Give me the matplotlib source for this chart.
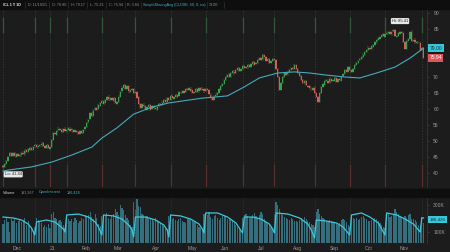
import matplotlib
matplotlib.use("Agg")
import matplotlib.pyplot as plt
from matplotlib.patches import Rectangle
import numpy as np

plt.rcParams["font.family"] = ["Liberation Sans", "DejaVu Sans"]

# ---------------- data ----------------
closes = [
41.9, 42.7, 43.8, 45.1, 46.2, 45.4, 46.1, 45.2, 45.9, 45.3,
45.6, 46.3, 45.9, 47.0, 46.6, 47.4, 47.8, 47.3, 48.2, 48.8,
48.1, 48.4, 48.7, 49.2, 48.5, 47.9, 48.6, 47.7, 48.1, 50.4,
52.5, 52.1, 53.2, 53.9, 53.4, 52.9, 53.8, 53.1, 53.4, 54.0,
53.2, 53.6, 52.7, 53.3, 52.8, 52.2, 53.0, 52.5, 53.5, 54.4,
55.7, 56.6, 58.7, 57.9, 59.5, 60.4, 59.8, 61.1, 61.9, 62.6,
61.7, 62.9, 63.8, 63.0, 63.4, 62.7, 63.3, 61.8, 62.2, 63.9,
65.4, 66.7, 67.5, 66.4, 67.1, 65.5, 65.9, 66.3, 64.9, 65.3,
63.5, 61.7, 60.3, 61.5, 60.9, 59.9, 60.6, 61.3, 59.8, 60.9,
60.3, 59.9, 60.7, 61.6, 61.2, 62.0, 62.8, 62.3, 63.4, 62.9,
64.1, 63.3, 63.7, 64.4, 63.9, 65.2, 65.0, 65.6, 65.1, 66.3,
65.9, 66.5, 65.7, 65.0, 65.3, 66.2, 65.4, 66.6, 65.9, 66.4,
65.5, 66.2, 65.9, 64.6, 63.4, 62.8, 63.9, 64.5, 65.0, 66.1,
67.2, 67.9, 69.1, 70.0, 70.7, 70.1, 71.2, 71.8, 71.1, 72.2,
72.8, 72.0, 72.5, 73.4, 72.7, 73.1, 73.7, 73.2, 74.1, 74.8,
73.9, 74.4, 75.2, 75.9, 75.4, 76.9, 76.1, 75.0, 75.5, 74.4,
74.9, 75.7, 75.3, 72.6, 70.0, 65.9, 68.2, 69.9, 71.2, 70.7,
71.6, 72.2, 72.9, 72.4, 73.7, 72.5, 71.2, 70.4, 69.0, 68.1,
68.6, 67.4, 67.0, 66.5, 66.1, 66.6, 65.0, 63.7, 62.2, 65.1,
66.9, 67.7, 68.6, 69.0, 68.2, 69.5, 68.6, 69.0, 69.7, 68.5,
69.3, 69.0, 70.1, 71.0, 72.2, 71.7, 73.1, 72.2, 71.5, 72.6,
73.8, 74.4, 75.1, 75.7, 76.2, 77.0, 77.8, 78.4, 79.2, 78.7,
79.6, 80.0, 80.9, 81.5, 82.1, 82.5, 83.2, 82.7, 83.4, 83.7,
84.0, 83.4, 84.2, 84.65, 82.7, 82.8, 83.6, 84.0, 83.9, 80.9,
78.8, 81.3, 81.9, 84.1, 81.3, 81.6, 80.8, 80.9, 80.8, 78.4,
79.0, 75.94]

opens = [
42.2, 41.9, 42.8, 43.7, 45.2, 46.1, 45.3, 46.2, 45.1, 45.8,
45.4, 45.5, 46.4, 45.8, 47.1, 46.5, 47.3, 47.9, 47.2, 48.3,
48.7, 48.0, 48.5, 48.6, 49.3, 48.4, 47.8, 48.7, 47.6, 48.2,
50.3, 52.6, 52.0, 53.3, 53.8, 53.5, 52.8, 53.9, 53.0, 53.5,
53.9, 53.3, 53.5, 52.8, 53.2, 52.9, 52.1, 53.1, 52.4, 53.6,
54.3, 55.8, 56.8, 58.6, 57.8, 59.6, 60.3, 59.9, 61.0, 62.0,
62.5, 61.8, 62.8, 63.9, 62.9, 63.5, 62.6, 63.4, 61.7, 62.3,
63.8, 65.5, 66.6, 67.6, 66.3, 67.2, 65.4, 66.0, 66.2, 65.0,
65.2, 63.6, 61.6, 60.4, 61.4, 61.0, 59.8, 60.7, 61.2, 59.9,
60.8, 60.4, 59.8, 60.8, 61.5, 61.3, 61.9, 62.9, 62.2, 63.5,
62.8, 64.2, 63.2, 63.8, 64.3, 64.0, 65.1, 65.1, 65.5, 65.2,
66.2, 66.0, 66.4, 65.8, 64.9, 65.4, 66.1, 65.5, 66.5, 66.0,
66.3, 65.6, 66.1, 66.0, 64.5, 63.5, 62.7, 64.0, 64.4, 65.1,
66.0, 67.3, 67.8, 69.2, 69.9, 70.8, 70.0, 71.3, 71.7, 71.2,
72.1, 72.9, 71.9, 72.6, 73.3, 72.8, 73.0, 73.8, 73.1, 74.2,
74.7, 74.0, 74.3, 75.3, 75.8, 75.5, 76.8, 76.2, 74.9, 75.6,
74.3, 75.0, 75.6, 75.4, 72.5, 70.1, 66.0, 68.1, 70.0, 71.1,
70.8, 71.5, 72.3, 72.8, 72.5, 73.6, 72.4, 71.3, 70.3, 69.1,
68.0, 68.7, 67.3, 67.1, 66.4, 66.0, 66.7, 64.9, 63.8, 62.3,
65.0, 67.0, 67.6, 68.7, 68.9, 68.3, 69.4, 68.7, 68.9, 69.8,
68.4, 69.4, 68.9, 70.2, 70.9, 72.3, 71.6, 73.2, 72.1, 71.6,
72.5, 73.9, 74.3, 75.2, 75.6, 76.3, 76.9, 77.7, 78.5, 79.1,
78.8, 79.5, 80.1, 80.8, 81.6, 82.0, 82.6, 83.3, 82.6, 83.5,
83.6, 84.1, 83.3, 84.3, 84.6, 82.6, 82.9, 83.5, 84.1, 83.8,
81.0, 78.7, 81.4, 81.8, 84.2, 81.2, 81.7, 80.7, 81.0, 80.7,
78.5, 79.0]

# 50-day simple moving average, vertices
ma_idx = [0, 3, 17, 29, 41, 53, 59, 68, 78, 89, 99, 119, 134, 144, 153,
          164, 174, 183, 193, 204, 213, 223, 234, 243, 251]
ma_val = [40.6, 40.9, 41.9, 43.4, 45.6, 48.1, 50.9, 54.1, 58.4, 60.6, 61.9,
          63.4, 64.1, 66.9, 69.7, 71.25, 71.6, 71.25, 70.6, 70.0, 69.7,
          71.25, 73.1, 75.9, 79.0]

volume = [
310, 380, 420, 350, 180, 390, 360, 410, 330, 370,
400, 350, 380, 420, 300, 360, 290, 240, 200, 260,
420, 380, 350, 330, 260, 300, 270, 310, 250, 480,
520, 410, 390, 360, 380, 340, 290, 250, 450, 400,
370, 390, 350, 410, 380, 330, 360, 420, 390, 470,
440, 460, 520, 430, 400, 480, 410, 320, 280, 450,
430, 470, 500, 420, 390, 450, 480, 560, 510, 470,
620, 580, 540, 460, 420, 380, 300, 260, 680, 540,
720, 610, 590, 480, 470, 430, 450, 400, 420, 390,
360, 410, 380, 350, 330, 300, 280, 250, 230, 450,
420, 390, 410, 380, 360, 400, 420, 370, 350, 330,
390, 410, 380, 360, 340, 330, 300, 270, 240, 220,
480, 450, 470, 520, 430, 400, 440, 460, 410, 380,
420, 450, 470, 430, 400, 390, 380, 360, 330, 300,
270, 240, 210, 420, 460, 480, 450, 410, 430, 470,
490, 440, 420, 460, 520, 480, 390, 350, 320, 300,
260, 240, 480, 680, 620, 570, 500, 460, 430, 410,
400, 380, 420, 390, 370, 360, 340, 380, 410, 400,
430, 390, 370, 350, 320, 290, 260, 520, 560, 480,
440, 410, 390, 370, 350, 380, 360, 340, 330, 310,
300, 330, 380, 400, 380, 340, 300, 270, 430, 410,
390, 420, 380, 400, 430, 450, 410, 390, 370, 360,
380, 400, 420, 390, 360, 330, 300, 270, 250, 440,
480, 430, 450, 470, 560, 520, 480, 450, 430, 410,
440, 420, 460, 480, 400, 390, 380, 350, 300, 260,
430, 330]

# open interest (thousands), vertices of the sawtooth line
oi_idx = [0, 6, 11, 15, 17, 19,
          20, 26, 31, 34, 36, 37,
          38, 45, 51, 55, 57, 59,
          60, 66, 71, 75, 77, 78,
          79, 85, 91, 96, 98, 99,
          100, 106, 112, 117, 119, 120,
          121, 128, 134, 139, 141, 143,
          144, 149, 154, 159, 161, 162,
          163, 170, 177, 182, 184, 186,
          187, 193, 199, 203, 205, 207,
          208, 214, 219, 224, 226, 228,
          229, 235, 240, 245, 247, 249,
          250, 251]
oi_val = [211, 204, 189, 159, 130, 78,
          174, 189, 174, 144, 122, 100,
          226, 233, 211, 174, 137, 78,
          226, 219, 196, 152, 115, 63,
          211, 211, 189, 152, 115, 63,
          226, 219, 196, 159, 122, 93,
          241, 241, 211, 167, 130, 93,
          211, 211, 196, 159, 122, 93,
          241, 233, 204, 159, 115, 56,
          189, 181, 167, 137, 107, 78,
          226, 241, 211, 167, 122, 78,
          241, 226, 196, 159, 130, 100,
          204, 204]

# contract roll markers (bar index)
roll_idx = [0, 19, 28, 38, 59, 79, 100, 121, 143, 162, 186, 207, 228, 250]

month_idx = [6, 28, 47, 66, 89, 110, 130, 152, 173, 195, 216, 237]
month_lbl = ["Dec", "21", "Feb", "Mar", "Apr", "May", "Jun", "Jul", "Aug",
             "Sep", "Oct", "Nov"]

price_ticks = [40, 45, 50, 55, 60, 65, 70, 85, 90]
oi_ticks = [100, 300]
oi_tick_lbl = ["100K", "300K"]

# ---------------- styling ----------------
BG = "#1c1c1c"
HDR = "#0e0e0e"
UP = "#3aa14c"
DN = "#d2605a"
MA_C = "#45aabd"
OI_C = "#3cc8dc"
VOL_C = "#3a7d8e"
TXT = "#9a9a9a"
FS = 3.6
HFS = 2.7

W, H = 450, 252
fig = plt.figure(figsize=(W / 100, H / 100), dpi=100, facecolor=BG)


def fr(x0, y0, x1, y1):
    return [x0 / W, 1 - y1 / H, (x1 - x0) / W, (y1 - y0) / H]


# header bands
fig.patches.append(Rectangle((0, 1 - 9 / H), 1, 9 / H, transform=fig.transFigure,
                             color=HDR, zorder=0))
fig.patches.append(Rectangle((0, 1 - 197 / H), 1, 8 / H, transform=fig.transFigure,
                             color=HDR, zorder=0))

n = min(len(closes), len(opens), len(volume))
x = np.arange(n)
o = np.array(opens[:n])
c = np.array(closes[:n])
up = c >= o
XL = (-1.8, 253.1)

ax = fig.add_axes(fr(0, 10, 427, 187))
ax.set_facecolor(BG)
ax.set_xlim(*XL)
ax.set_ylim(85 - (187 - 29) * 0.3125, 85 + (29 - 10) * 0.3125)

for r in roll_idx:
    ax.axvline(r, color="#37433a", lw=0.5, ls=(0, (2, 2)), zorder=1)
    ax.plot([r, r], [36.0, 42.5], color="#5a2e2c", lw=0.9, zorder=1)
    ax.plot([r, r], [84.0, 88.5], color="#2e5a3a", lw=0.9, zorder=1)

body = np.abs(c - o)
body = np.where(body < 0.12, 0.12, body)
ax.vlines(x, np.minimum(o, c) - 0.35, np.maximum(o, c) + 0.35,
          colors=np.where(up, UP, DN), lw=0.35, zorder=2)
ax.bar(x[up], body[up], bottom=np.minimum(o, c)[up], width=0.75, color=UP,
       linewidth=0, zorder=3)
ax.bar(x[~up], body[~up], bottom=np.minimum(o, c)[~up], width=0.75, color=DN,
       linewidth=0, zorder=3)
ax.plot(ma_idx, ma_val, color=MA_C, lw=0.8, zorder=4)

ax.yaxis.tick_right()
ax.set_yticks(price_ticks)
ax.set_yticklabels([str(t) for t in price_ticks])
ax.tick_params(axis="y", colors="#555555", labelcolor=TXT, labelsize=FS,
               length=1.5, width=0.4, pad=3)
ax.set_xticks([])
for s in ax.spines.values():
    s.set_visible(False)
ax.spines["right"].set_visible(True)
ax.spines["right"].set_color("#3a3a3a")
ax.spines["right"].set_linewidth(0.5)

# hi / lo bubbles
imax = int(np.argmax(c))
imin = int(np.argmin(c))
ax.text(imax + 4, c[imax] + 2.2, "Hi: 85.41", fontsize=FS - 0.6, color="#222222",
        ha="center", va="bottom", zorder=6,
        bbox=dict(boxstyle="round,pad=0.25", fc="#e8e8e8", ec="none"))
ax.text(imin + 1, c[imin] - 1.7, "Lo: 41.44", fontsize=FS - 0.6, color="#222222",
        ha="left", va="top", zorder=6,
        bbox=dict(boxstyle="round,pad=0.25", fc="#e8e8e8", ec="none"))

# right side value tags
ax.text(1.006, ma_val[-1], f"{ma_val[-1]:.2f}", transform=ax.get_yaxis_transform(),
        fontsize=FS, color="#10343a", ha="left", va="center", zorder=7,
        bbox=dict(boxstyle="square,pad=0.25", fc="#39c6d6", ec="none"),
        clip_on=False)
ax.text(1.006, c[-1], f"{c[-1]:.2f}", transform=ax.get_yaxis_transform(),
        fontsize=FS, color="#ffffff", ha="left", va="center", zorder=7,
        bbox=dict(boxstyle="square,pad=0.25", fc="#e0575a", ec="none"),
        clip_on=False)

# ---------------- volume panel ----------------
axv = fig.add_axes(fr(0, 197, 427, 243))
axv.set_facecolor(BG)
axv.set_xlim(*XL)
axv.set_ylim(0, 760)
axv.bar(x, volume[:n], width=0.7, color=VOL_C, alpha=0.85, linewidth=0)
for r in roll_idx[1:]:
    axv.axvline(r, color="#2f3a33", lw=0.5, ls=(0, (2, 2)))
axv.set_yticks([])
axv.set_xticks(month_idx)
axv.set_xticklabels(month_lbl, ha="left")
axv.tick_params(axis="x", length=0, labelsize=FS, labelcolor=TXT, pad=2)
for s in axv.spines.values():
    s.set_visible(False)
axv.spines["top"].set_visible(True)
axv.spines["top"].set_color("#333333")
axv.spines["top"].set_linewidth(0.5)

axo = axv.twinx()
axo.set_xlim(*XL)
lo = 100 - 11 * 200 / 27
hi = 300 + 8 * 200 / 27
axo.set_ylim(lo, hi)
axo.plot(oi_idx, oi_val, color=OI_C, lw=0.9)
axo.set_yticks(oi_ticks)
axo.set_yticklabels(oi_tick_lbl)
axo.tick_params(axis="y", colors="#555555", labelcolor=TXT, labelsize=FS,
                length=1.5, width=0.4, pad=3)
for s in axo.spines.values():
    s.set_visible(False)
axo.spines["right"].set_visible(True)
axo.spines["right"].set_color("#3a3a3a")
axo.spines["right"].set_linewidth(0.5)
axo.text(1.006, oi_val[-1] - 12, "186,426", transform=axo.get_yaxis_transform(),
         fontsize=FS - 0.4, color="#10343a", ha="left", va="center",
         bbox=dict(boxstyle="square,pad=0.25", fc="#39c6d6", ec="none"),
         clip_on=False)

# ---------------- header texts ----------------
hdr_items = [(3, "/CL 1 Y 1D", "#e8e8e8", True),
             (28, "D: 11/19/21", "#8c8c8c", False),
             (52, "O: 78.80", "#8c8c8c", False),
             (71, "H: 79.17", "#8c8c8c", False),
             (90, "L: 75.33", "#8c8c8c", False),
             (109, "C: 75.94", "#8c8c8c", False),
             (127, "R: 3.84", "#8c8c8c", False),
             (143, "SimpleMovingAvg (CLOSE, 50, 0, no)", "#3fb6c8", False),
             (209, "79.00", "#3fb6c8", False)]
for xx, tt, cc, bb in hdr_items:
    fig.text(xx / W, 1 - 4.6 / H, tt, fontsize=HFS, color=cc, ha="left",
             va="center", fontweight="bold" if bb else "normal")
for xx in [25, 49, 68, 87, 106, 125, 141, 207, 224]:
    fig.add_artist(plt.Line2D([xx / W, xx / W], [1 - 8 / H, 1 - 1.5 / H],
                              transform=fig.transFigure, color="#3a3a3a", lw=0.4))

vol_items = [(3, "Volume", "#e0e0e0"), (21, "191,367", "#8c8c8c"),
             (39, "OpenInterest", "#3fb6c8"), (67, "186,426", "#3fb6c8")]
for xx, tt, cc in vol_items:
    fig.text(xx / W, 1 - 192.5 / H, tt, fontsize=HFS, color=cc,
             ha="left", va="center")

fig.savefig("out.png", dpi=100, facecolor=BG)
